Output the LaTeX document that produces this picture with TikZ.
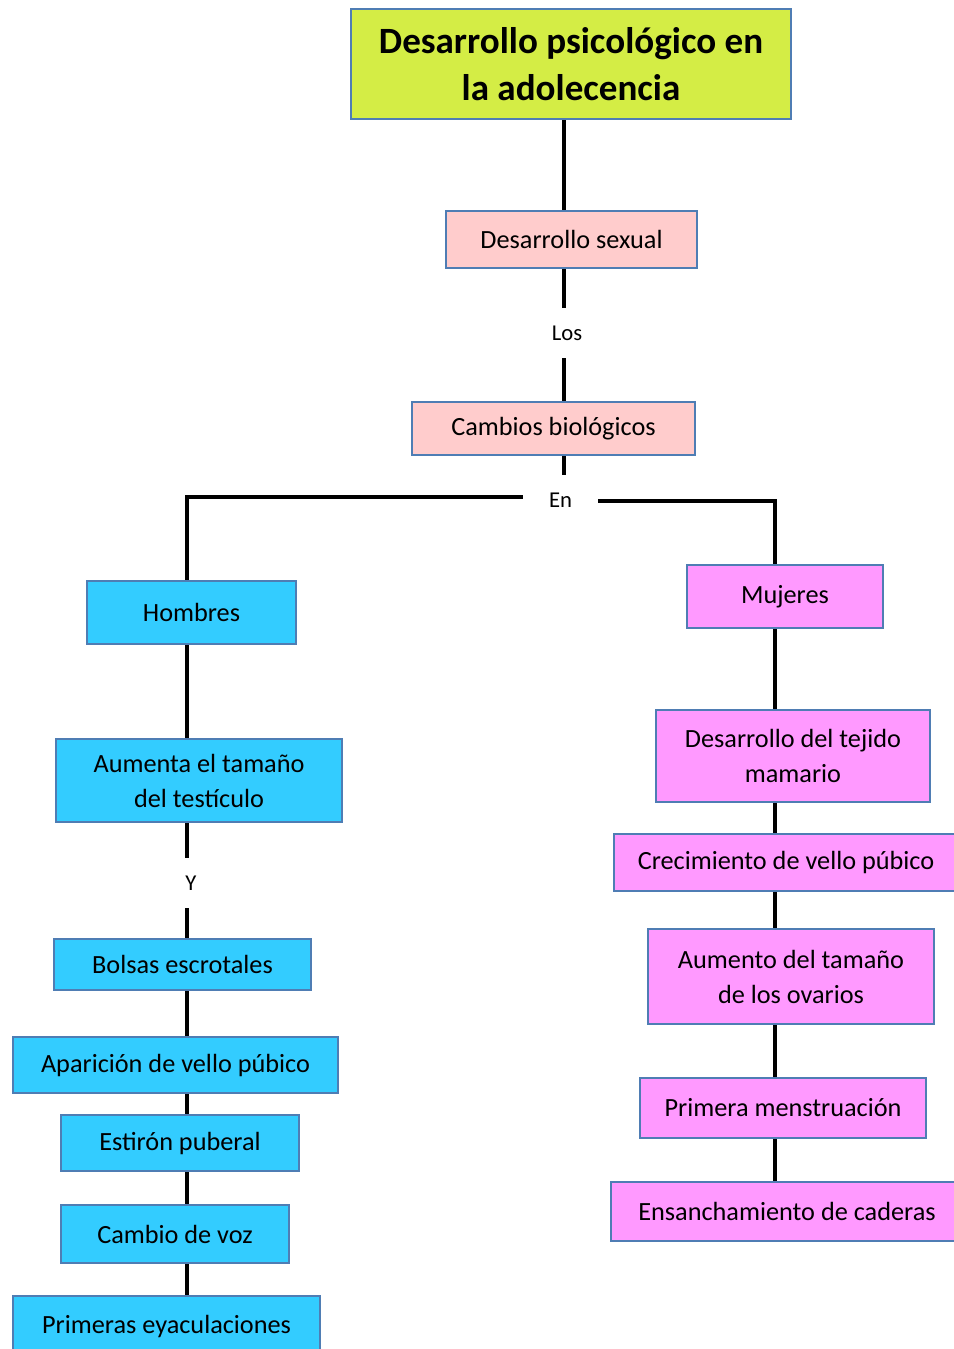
\documentclass[tikz,border=0pt]{standalone}
\usepackage{fontspec}
\setmainfont{Carlito}
\definecolor{borde}{RGB}{79,125,180}
\definecolor{verdelima}{RGB}{212,237,69}
\definecolor{rosa}{RGB}{255,204,204}
\definecolor{celeste}{RGB}{51,204,255}
\definecolor{fucsia}{RGB}{255,153,255}
\begin{document}
\begin{tikzpicture}[x=0.75pt, y=-0.75pt,
  caja/.style={draw=borde, line width=1.5pt, inner sep=0pt, align=center,
    font=\fontsize{19.7}{26.25}\selectfont},
  titulo/.style={caja, fill=verdelima, font=\fontsize{27.8}{35.25}\selectfont\bfseries},
  rosabox/.style={caja, fill=rosa},
  hbox/.style={caja, fill=celeste},
  mbox/.style={caja, fill=fucsia},
  enlace/.style={inner sep=0pt, minimum height=37.5pt, font=\fontsize{17}{20}\selectfont},
  conn/.style={line width=3pt}]
\useasboundingbox (0,0) rectangle (953,1349);

\coordinate (cx) at (564,0);
\coordinate (hx) at (187,0);
\coordinate (mx) at (775,0);

\node[titulo, minimum width=330pt, minimum height=82.5pt] (tit) at (571,64) {Desarrollo psicológico en\\la adolecencia};
\node[rosabox, minimum width=188.25pt, minimum height=42.75pt] (sexual) at (571.5,239.5) {Desarrollo sexual};
\node[enlace] (los) at (567,333) {Los};
\node[rosabox, minimum width=212.25pt, minimum height=39.75pt] (cambios) at (553.5,428.5) {Cambios biológicos};
\node[enlace, minimum width=56.25pt] (en) at (560.5,500) {En};

% hombres
\node[hbox, minimum width=156.75pt, minimum height=47.25pt] (hombres) at (191.5,612.5) {Hombres};
\node[hbox, minimum width=214.5pt, minimum height=62.25pt] (testiculo) at (199,780.5) {Aumenta el tamaño\\del testículo};
\node[enlace] (y) at (191,883) {Y};
\node[hbox, minimum width=192.75pt, minimum height=38.25pt] (bolsas) at (182.5,964.5) {Bolsas escrotales};
\node[hbox, minimum width=243.75pt, minimum height=42pt] (vellohom) at (175.5,1065) {Aparición de vello púbico};
\node[hbox, minimum width=178.5pt, minimum height=42pt] (estiron) at (180,1143) {Estirón puberal};
\node[hbox, minimum width=171pt, minimum height=43.5pt] (voz) at (175,1234) {Cambio de voz};
\node[hbox, minimum width=230.25pt, minimum height=45pt] (eyac) at (166.5,1326) {Primeras eyaculaciones};

% mujeres
\node[mbox, minimum width=147pt, minimum height=47.25pt] (mujeres) at (785,596.5) {Mujeres};
\node[mbox, minimum width=205.5pt, minimum height=69pt] (mamario) at (793,756) {Desarrollo del tejido\\mamario};
\node[mbox, minimum width=258pt, minimum height=42.75pt] (vellomuj) at (786,862.5) {Crecimiento de vello púbico};
\node[mbox, minimum width=214.5pt, minimum height=71.25pt] (ovarios) at (791,976.5) {Aumento del tamaño\\de los ovarios};
\node[mbox, minimum width=214.5pt, minimum height=45pt] (mens) at (783,1108) {Primera menstruación};
\node[mbox, minimum width=264pt, minimum height=44.25pt] (caderas) at (787,1211.5) {Ensanchamiento de caderas};

\draw[conn] (tit.south -| cx) -- (sexual.north -| cx);
\draw[conn] (sexual.south -| cx) -- (los.north -| cx);
\draw[conn] (los.south -| cx) -- (cambios.north -| cx);
\draw[conn] (cambios.south -| cx) -- (en.north -| cx);
\draw[conn] ([yshift=2.25pt]en.west) -| (hombres.north -| hx);
\draw[conn] ([yshift=-0.75pt]en.east) -| (mujeres.north -| mx);

\draw[conn] (hombres.south -| hx) -- (testiculo.north -| hx);
\draw[conn] (testiculo.south -| hx) -- (y.north -| hx);
\draw[conn] (y.south -| hx) -- (bolsas.north -| hx);
\draw[conn] (bolsas.south -| hx) -- (vellohom.north -| hx);
\draw[conn] (vellohom.south -| hx) -- (estiron.north -| hx);
\draw[conn] (estiron.south -| hx) -- (voz.north -| hx);
\draw[conn] (voz.south -| hx) -- (eyac.north -| hx);

\draw[conn] (mujeres.south -| mx) -- (mamario.north -| mx);
\draw[conn] (mamario.south -| mx) -- (vellomuj.north -| mx);
\draw[conn] (vellomuj.south -| mx) -- (ovarios.north -| mx);
\draw[conn] (ovarios.south -| mx) -- (mens.north -| mx);
\draw[conn] (mens.south -| mx) -- (caderas.north -| mx);
\end{tikzpicture}
\end{document}
